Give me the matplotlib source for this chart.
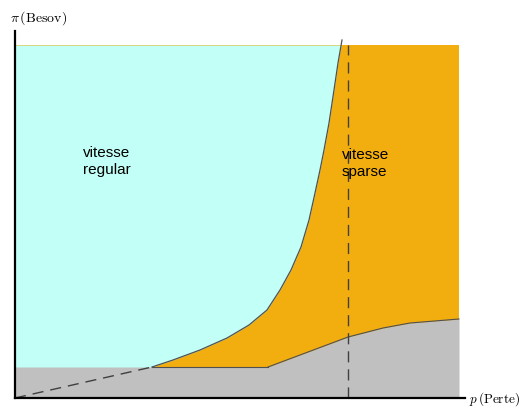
import numpy as np
import matplotlib.pyplot as plt

plt.rcParams['mathtext.fontset'] = 'cm'

# boundary between regular and sparse zones (x = p, y = pi)
curve_x = [137, 158, 185, 212, 234, 252, 265, 276, 286, 294, 300, 305, 309, 314, 319, 323, 327]
curve_y = [31, 38, 48, 60, 73, 88, 108, 128, 151, 178, 205, 228, 248, 275, 308, 335, 358]

# lower grey zone
gray_x = [0, 253, 293, 333, 368, 395, 444]
gray_y = [31, 31, 46, 61, 70, 75, 79]

x_max = 444
y_top = 353
p_crit = 333

cyan = '#C2FFF6'
orange = '#F2AE0E'
gray = '#C0C0C0'
edge = '#505050'

fig = plt.figure(figsize=(5.21, 4.07), dpi=100)
ax = fig.add_axes([15/521, 9/407, 450/521, 367/407])

# orange background
ax.fill_between([0, x_max], 0, y_top, color=orange, lw=0)

# cyan region left of the curve
cy = np.array(curve_y, dtype=float)
cx = np.array(curve_x, dtype=float)
keep = cy <= y_top
yy = np.append(cy[keep], y_top)
xx = np.append(cx[keep], np.interp(y_top, cy, cx))
ax.fill_betweenx(yy, 0, xx, color=cyan, lw=0)
ax.fill_between([0, cx[0]], 0, cy[0], color=cyan, lw=0)

# grey region
ax.fill_between(gray_x, 0, gray_y, color=gray, lw=0)
ax.plot(gray_x[1:], gray_y[1:], color=edge, lw=0.8)
ax.plot([cx[0], gray_x[1]], [gray_y[0], gray_y[1]], color=edge, lw=0.8)

# curve
ax.plot(curve_x, curve_y, color=edge, lw=0.9)

# dashed lines
ax.plot([0, curve_x[0]], [0, curve_y[0]], color='#404040', lw=1, dashes=(8, 5))
ax.plot([p_crit, p_crit], [0, y_top], color='#404040', lw=1, dashes=(8, 5))

ax.text(68, 252, 'vitesse\nregular', fontsize=11, family='Liberation Sans',
        va='top', linespacing=1.25)
ax.text(327, 250, 'vitesse\nsparse', fontsize=11, family='Liberation Sans',
        va='top', linespacing=1.25)

ax.set_xlim(0, 450)
ax.set_ylim(0, 367)
ax.spines['top'].set_visible(False)
ax.spines['right'].set_visible(False)
ax.spines['left'].set_linewidth(1.6)
ax.spines['bottom'].set_linewidth(1.6)
ax.set_xticks([])
ax.set_yticks([])

fig.text(10/521, 1 - 22/407, r'$\pi\,(\mathrm{Besov})$', fontsize=10)
fig.text(469/521, 1 - 403/407, r'$p\,(\mathrm{Perte})$', fontsize=9.5)

fig.savefig('out.png', dpi=100)
